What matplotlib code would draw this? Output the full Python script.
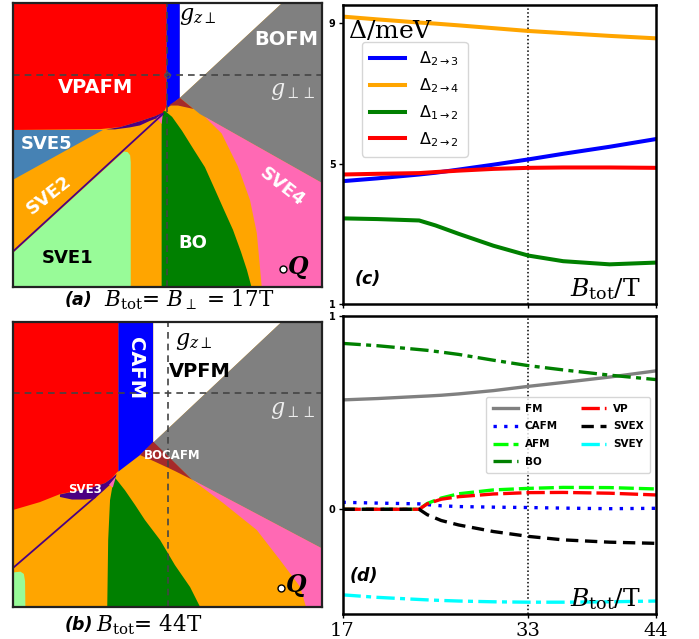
import matplotlib
matplotlib.use("Agg")
import matplotlib.pyplot as plt

# ---------------- field sweep data ----------------
B_gap = [17, 20, 23.6, 25, 27, 30, 33, 36, 40, 44]
gap_23 = [4.50, 4.58, 4.69, 4.74, 4.83, 4.97, 5.12, 5.28, 5.48, 5.70]
gap_24 = [9.19, 9.11, 9.02, 8.99, 8.94, 8.86, 8.78, 8.72, 8.64, 8.57]
gap_12 = [3.44, 3.42, 3.38, 3.24, 3.00, 2.66, 2.38, 2.22, 2.13, 2.18]
gap_22 = [4.69, 4.71, 4.73, 4.76, 4.80, 4.85, 4.88, 4.89, 4.89, 4.88]

B_ord = [17, 20, 23.6, 24.3, 25.5, 27, 30, 33, 36, 40, 44]
op_FM = [0.565, 0.572, 0.583, 0.585, 0.589, 0.596, 0.613, 0.635, 0.655, 0.683, 0.715]
op_BO = [0.857, 0.845, 0.825, 0.821, 0.812, 0.800, 0.770, 0.742, 0.720, 0.693, 0.670]
op_CAFM = [0.036, 0.032, 0.028, 0.024, 0.018, 0.014, 0.011, 0.009, 0.006, 0.003, 0.005]
op_AFM = [0, 0, 0, 0.030, 0.058, 0.080, 0.100, 0.108, 0.113, 0.112, 0.105]
op_VP = [0, 0, 0, 0.028, 0.052, 0.065, 0.079, 0.086, 0.087, 0.083, 0.074]
op_SVEX = [0, 0, 0, -0.028, -0.058, -0.081, -0.115, -0.140, -0.158, -0.170, -0.176]
op_SVEY = [-0.442, -0.455, -0.466, -0.468, -0.471, -0.474, -0.478, -0.480, -0.480, -0.478, -0.474]

B_ticks = [17, 33, 44]
B_mark = 33

# ---------------- phase diagram (a): B_tot = 17 T ----------------
a_red = [(0, 100), (49.8, 100), (49.8, 64), (49.3, 62.5), (48.6, 61.4), (46.1, 60.3),
         (41.2, 58.5), (34.7, 56.4), (28.3, 55.7), (0, 55.4)]
a_blue = [(49.8, 100), (54.1, 100), (54.1, 66.7), (50.2, 63.3), (49.8, 63.3)]
a_white = [(54.1, 100), (87.1, 100), (54.1, 66.7)]
a_gray = [(54.1, 66.7), (87.1, 100), (100, 100), (100, 36.8), (60.6, 61.0)]
a_brown = [(50.5, 64.0), (54.1, 66.7), (58.5, 62.8), (53.5, 64.0)]
a_pink = [(60.6, 61.0), (100, 36.8), (100, 0), (80.6, 0), (80.0, 7.3), (79.0, 19.1),
          (76.8, 30.7), (72.9, 42.5), (67.6, 54.2), (62.2, 60.0)]
a_steel = [(0, 55.4), (29.2, 55.4), (0, 37.8)]
a_lgreen = [(0, 0), (0, 12.0), (36.0, 47.8), (37.2, 47.6), (38.0, 46.5), (38.2, 44), (38.2, 0)]
a_green = [(48.2, 0), (48.2, 60.5), (48.8, 62.0), (49.3, 62.1), (51.6, 60.0), (54.8, 55.1),
           (58.7, 48.3), (62.2, 42.3), (65.5, 34.3), (68.4, 27.2), (71.3, 20.2),
           (73.9, 12.4), (75.8, 6.1), (77.3, 0)]
a_purple = [(30.2, 55.6), (34.7, 56.4), (41.2, 58.5), (46.1, 60.3), (48.8, 61.6),
            (48.6, 60.3), (44.4, 58.6), (41.2, 57.0), (37.9, 56.3), (33.1, 55.6)]
a_pinkbit = [(46.5, 59.6), (48.6, 61.2), (48.2, 57.5)]
a_diag = [(0, 12.5), (48.6, 61.0)]

# ---------------- phase diagram (b): B_tot = 44 T ----------------
b_red = [(0, 100), (34.2, 100), (34.2, 47.6), (33.8, 47.2), (32.1, 45.1), (29.9, 43.4),
         (25.0, 41.6), (15.3, 39.5), (8.8, 36.7), (0, 33.9)]
b_blue = [(34.2, 100), (45.5, 100), (45.5, 57.6), (41.2, 53.2), (34.2, 47.4)]
b_white = [(45.5, 100), (87.1, 100), (45.5, 57.6)]
b_gray = [(45.5, 57.6), (87.1, 100), (100, 100), (100, 20.5), (58.0, 44.6)]
b_brown = [(41.2, 53.2), (45.5, 57.9), (58.0, 44.6), (52.5, 47.6), (46.0, 50.9)]
b_pink = [(58.0, 44.6), (100, 20.5), (100, 0), (94.9, 0), (93.0, 7.0), (86.5, 16.4),
          (79.0, 26.9), (68.2, 36.3)]
b_green = [(30.6, 0), (30.9, 23.4), (31.5, 37.4), (32.5, 43.7), (33.1, 45.3), (36.3, 40.9),
           (39.6, 35.7), (42.8, 30.4), (47.7, 23.4), (52.5, 14.6), (57.4, 6.9), (60.6, 0)]
b_lgreen = [(0, 0), (0, 12.0), (2.5, 12.3), (3.6, 11.5), (4.0, 9), (4.1, 0)]
b_purple = [(15.3, 39.4), (25.0, 41.6), (29.9, 43.4), (32.1, 45.1), (33.6, 46.6),
            (33.4, 45.5), (32.0, 43.3), (29.3, 40.6), (26.6, 38.0), (23.4, 37.6),
            (19.2, 37.6), (15.3, 38.5)]
b_pinkbit = [(31.2, 42.8), (33.4, 45.6), (32.4, 41.8)]
b_diag = [(0, 13.5), (26.6, 38.4)]

C = dict(orange="#ffa500", red="#ff0000", blue="#0000ff", white="#ffffff",
         gray="#808080", brown="#a52a2a", pink="#ff69b4", steel="#4682b4",
         lgreen="#98fb98", green="#008000", purple="#4b0082")

fig = plt.figure(figsize=(6.99, 6.39), dpi=100)
W, H = 699, 639


def axes_px(l, t, r, b):
    return fig.add_axes([l / W, 1 - b / H, (r - l) / W, (b - t) / H])


def fill(ax, pts, color):
    xs, ys = zip(*pts)
    ax.fill(xs, ys, color=color, lw=0, zorder=1)


def phase_frame(ax):
    ax.set_xlim(0, 100)
    ax.set_ylim(0, 100)
    ax.set_facecolor(C["orange"])
    ax.set_xticks([])
    ax.set_yticks([])
    for s in ax.spines.values():
        s.set_color("#222222")
        s.set_linewidth(1.6)
        s.set_zorder(10)


sans_b = dict(family="DejaVu Sans", weight="bold")

# ---- (a)
ax_a = axes_px(12.7, 3.3, 321.7, 287.3)
phase_frame(ax_a)
for pts, col in [(a_red, "red"), (a_blue, "blue"), (a_white, "white"), (a_gray, "gray"),
                 (a_brown, "brown"), (a_pink, "pink"), (a_steel, "steel"),
                 (a_lgreen, "lgreen"), (a_green, "green"), (a_purple, "purple"),
                 (a_pinkbit, "pink")]:
    fill(ax_a, pts, C[col])
ax_a.plot(*zip(*a_diag), color=C["purple"], lw=1.3, zorder=2)
ax_a.axhline(74.8, color="#444444", lw=1.2, ls=(0, (4, 3)), zorder=3)
ax_a.axvline(49.8, color="#444444", lw=1.2, ls=(0, (4, 3)), zorder=3)
ax_a.plot([49.8], [74.8], "o", ms=4, mfc="none", mec="#555555", mew=0.8, zorder=4)
ax_a.text(59.9, 95.5, r"$g_{z\perp}$", math_fontfamily="dejavuserif", fontsize=16,
          ha="center", va="center", color="black")
ax_a.text(90.7, 69.0, r"$g_{\perp\perp}$", math_fontfamily="dejavuserif", fontsize=16,
          ha="center", va="center", color="#eeeeee")
ax_a.text(88.5, 87.1, "BOFM", color="white", fontsize=14, ha="center", va="center", **sans_b)
ax_a.text(26.7, 70.2, "VPAFM", color="white", fontsize=14, ha="center", va="center", **sans_b)
ax_a.text(10.8, 50.5, "SVE5", color="white", fontsize=13, ha="center", va="center", **sans_b)
ax_a.text(11.6, 32.5, "SVE2", color="white", fontsize=13, ha="center", va="center",
          rotation=38, **sans_b)
ax_a.text(17.9, 10.3, "SVE1", color="black", fontsize=13, ha="center", va="center", **sans_b)
ax_a.text(58.3, 15.6, "BO", color="white", fontsize=13, ha="center", va="center", **sans_b)
ax_a.text(87.2, 35.3, "SVE4", color="white", fontsize=13, ha="center", va="center",
          rotation=-38, **sans_b)
ax_a.plot([87.4], [6.5], "o", ms=5, mfc="white", mec="black", mew=1.0, zorder=5)
ax_a.text(92.4, 7.1, r"$\boldsymbol{Q}$", math_fontfamily="dejavuserif", fontsize=17,
          ha="center", va="center", color="black")

# ---- (b)
ax_b = axes_px(12.7, 321.7, 321.7, 606.7)
phase_frame(ax_b)
for pts, col in [(b_red, "red"), (b_blue, "blue"), (b_white, "white"), (b_gray, "gray"),
                 (b_brown, "brown"), (b_pink, "pink"), (b_green, "green"),
                 (b_lgreen, "lgreen"), (b_purple, "purple"), (b_pinkbit, "pink")]:
    fill(ax_b, pts, C[col])
ax_b.plot(*zip(*b_diag), color=C["purple"], lw=1.3, zorder=2)
ax_b.axhline(74.9, color="#444444", lw=1.2, ls=(0, (4, 3)), zorder=3)
ax_b.axvline(50.2, color="#444444", lw=1.2, ls=(0, (4, 3)), zorder=3)
ax_b.text(39.6, 83.6, "CAFM", color="white", fontsize=14, ha="center", va="center",
          rotation=-90, **sans_b)
ax_b.text(58.4, 93.0, r"$g_{z\perp}$", math_fontfamily="dejavuserif", fontsize=16,
          ha="center", va="center", color="black")
ax_b.text(60.6, 82.5, "VPFM", color="black", fontsize=14, ha="center", va="center", **sans_b)
ax_b.text(90.8, 69.0, r"$g_{\perp\perp}$", math_fontfamily="dejavuserif", fontsize=16,
          ha="center", va="center", color="#eeeeee")
ax_b.text(51.5, 53.0, "BOCAFM", color="white", fontsize=8.5, ha="center", va="center", **sans_b)
ax_b.text(23.4, 41.2, "SVE3", color="white", fontsize=8.5, ha="center", va="center", **sans_b)
ax_b.plot([86.8], [6.7], "o", ms=5, mfc="white", mec="black", mew=1.0, zorder=5)
ax_b.text(91.8, 7.3, r"$\boldsymbol{Q}$", math_fontfamily="dejavuserif", fontsize=17,
          ha="center", va="center", color="black")

# captions
fig.text(65 / W, 1 - 300 / H, "(a)", fontsize=12.5, weight="bold", style="italic",
         family="DejaVu Sans", ha="left", va="center")
fig.text(104 / W, 1 - 300 / H, r"$B_{\mathrm{tot}}$= $B_{\perp}$ = 17T", fontsize=15.5,
         family="DejaVu Serif", math_fontfamily="dejavuserif", ha="left", va="center")
fig.text(65 / W, 1 - 625 / H, "(b)", fontsize=12.5, weight="bold", style="italic",
         family="DejaVu Sans", ha="left", va="center")
fig.text(96 / W, 1 - 625 / H, r"$B_{\mathrm{tot}}$= 44T", fontsize=15.5,
         family="DejaVu Serif", math_fontfamily="dejavuserif", ha="left", va="center")


def sweep_frame(ax):
    ax.set_xlim(B_ticks[0], B_ticks[-1])
    ax.set_xticks(B_ticks)
    for s in ax.spines.values():
        s.set_linewidth(1.8)
    ax.tick_params(length=3, width=1, pad=2)
    ax.axvline(B_mark, color="black", lw=1.1, ls=(0, (1, 1.5)), zorder=0)
    for lab in ax.get_yticklabels():
        lab.set_fontweight("bold")
        lab.set_fontsize(7)
    ax.text(0.95, 0.05, r"$B_{\mathrm{tot}}/\mathrm{T}$", transform=ax.transAxes,
            math_fontfamily="dejavuserif", fontsize=18, ha="right", va="center")


# ---- (c) gaps
ax_c = axes_px(342.5, 5, 656, 304)
ax_c.set_ylim(1, 9.52)
ax_c.set_yticks([1, 5, 9])
sweep_frame(ax_c)
ax_c.tick_params(axis="x", labelbottom=False)
ax_c.plot(B_gap, gap_23, color="#0000ff", lw=2.9, label=r"$\Delta_{2\rightarrow3}$")
ax_c.plot(B_gap, gap_24, color="#ffa500", lw=2.9, label=r"$\Delta_{2\rightarrow4}$")
ax_c.plot(B_gap, gap_12, color="#008000", lw=2.9, label=r"$\Delta_{1\rightarrow2}$")
ax_c.plot(B_gap, gap_22, color="#ff0000", lw=2.9, label=r"$\Delta_{2\rightarrow2}$")
ax_c.text(0.018, 0.912, r"$\Delta/\mathrm{meV}$", transform=ax_c.transAxes,
          math_fontfamily="dejavuserif", fontsize=18, ha="left", va="center")
ax_c.text(0.04, 0.082, "(c)", transform=ax_c.transAxes, fontsize=12.5, weight="bold",
          style="italic", ha="left", va="center")
ax_c.legend(loc="upper left", bbox_to_anchor=(0.061, 0.877), fontsize=11.5,
            handlelength=2.2, handletextpad=0.9, labelspacing=0.5,
            borderpad=0.5, borderaxespad=0, frameon=True, fancybox=True,
            edgecolor="#cccccc")

# ---- (d) order parameters
ax_d = axes_px(342.5, 315.7, 656, 614)
ax_d.set_ylim(-0.541, 1.0)
ax_d.set_yticks([0, 1])
sweep_frame(ax_d)
for lab in ax_d.get_xticklabels():
    lab.set_family("DejaVu Serif")
    lab.set_fontsize(14)
ax_d.tick_params(axis="x", pad=3)
lw = 2.4
ax_d.plot(B_ord, op_FM, color="#808080", lw=lw, label="FM")
ax_d.plot(B_ord, op_CAFM, color="#0000ff", lw=lw, ls=(0, (1, 2.2)), label="CAFM")
ax_d.plot(B_ord, op_AFM, color="#00ff00", lw=lw, ls=(0, (4.5, 1.5)), label="AFM")
ax_d.plot(B_ord, op_BO, color="#008000", lw=lw, ls=(0, (5.5, 1.6, 1.5, 1.6)), label="BO")
ax_d.plot(B_ord, op_VP, color="#ff0000", lw=lw, ls=(0, (5.5, 1.5)), label="VP")
ax_d.plot(B_ord, op_SVEX, color="black", lw=lw, ls=(0, (3.7, 2)), label="SVEX")
ax_d.plot(B_ord, op_SVEY, color="#00ffff", lw=lw, ls=(0, (5.5, 1.6, 1.5, 1.6)), label="SVEY")
ax_d.text(0.024, 0.126, "(d)", transform=ax_d.transAxes, fontsize=12.5, weight="bold",
          style="italic", ha="left", va="center")
ax_d.legend(loc="upper right", bbox_to_anchor=(0.981, 0.7265), ncol=2,
            prop=dict(weight="bold", size=7.5), handlelength=2.4, handletextpad=0.7,
            columnspacing=2.2, labelspacing=0.75, borderpad=0.6, borderaxespad=0,
            frameon=True, fancybox=True, edgecolor="#cccccc")

fig.savefig("out.png", dpi=100)
